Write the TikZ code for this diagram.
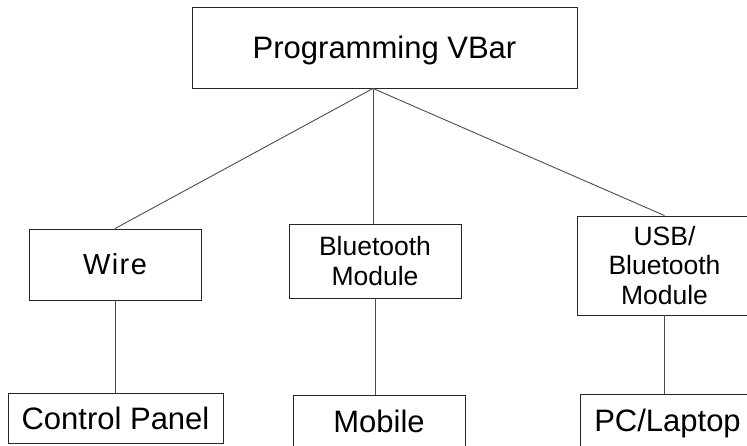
\documentclass[tikz,border=0pt]{standalone}
\usepackage{fontspec}
\setmainfont{Liberation Sans}
\begin{document}
\begin{tikzpicture}[x=1pt,y=-1pt,
	box/.style={draw=black!85,line width=0.9pt,inner sep=0pt},
	big/.style={font=\fontsize{31}{31}\selectfont,text height=22pt,text depth=0pt},
	small/.style={font=\fontsize{26.5}{29.5}\selectfont,align=center},
	link/.style={draw=black!70,line width=0.9pt}]
		\useasboundingbox (0,0) rectangle (747,445);
		\clip (0,0) rectangle (747,445);
		% top
		\node[box,big,minimum width=385pt,minimum height=81pt] (vbar) at (384.5,47.5) {Programming VBar};
		\coordinate (apex) at ([xshift=-11.5pt]vbar.south);
		% middle row
		\node[box,minimum width=172pt,minimum height=71pt,text height=20pt,text depth=0pt,
			font=\fontsize{29}{29}\selectfont\addfontfeatures{LetterSpace=5}] (wire) at (115,264.5) {Wire};
		\node[box,small,minimum width=172pt,minimum height=74pt] (bt) at (375,261) {Bluetooth\\Module};
		\node[box,small,minimum width=175pt,minimum height=99pt] (usb) at (664.5,265.5) {USB/\\Bluetooth\\Module};
		% bottom row
		\node[box,big,minimum width=215pt,minimum height=50pt] (panel) at (115.5,418) {Control Panel};
		\node[box,big,minimum width=172pt,minimum height=52pt] (mobile) at (379,421) {Mobile};
		\node[box,big,minimum width=175pt,minimum height=53pt] (pc) at (667.5,420.5) {PC/Laptop};
		% links
		\draw[link] (apex) -- (wire.north);
		\draw[link] (apex) -- (apex |- bt.north);
		\draw[link] (apex) -- (usb.north);
		\draw[link] (wire.south) -- (wire.south |- panel.north);
		\draw[link] (bt.south) -- (bt.south |- mobile.north);
		\draw[link] (usb.south) -- (usb.south |- pc.north);
	\end{tikzpicture}
\end{document}
